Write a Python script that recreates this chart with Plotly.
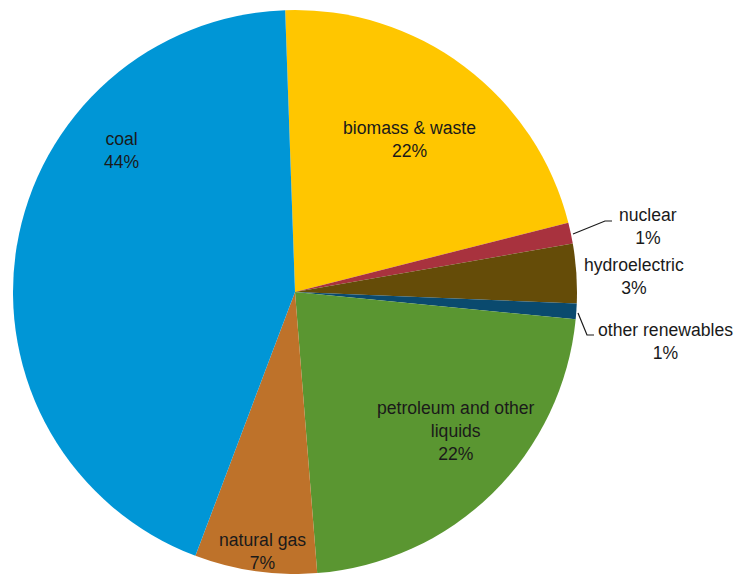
import plotly.graph_objects as go

labels = ["biomass & waste", "nuclear", "hydroelectric", "other renewables",
          "petroleum and other<br>liquids", "natural gas", "coal"]
values = [21.6, 1.2, 3.4, 0.9, 22.2, 7.0, 43.7]
pct_labels = ["22%", "1%", "3%", "1%", "22%", "7%", "44%"]
colors = ["#FFC600", "#A8323E", "#654C08", "#0A4A6E", "#5A9631", "#BE722A", "#0096D6"]

W, H = 736, 574
# label centres in pixels (layout)
label_pos = [(409, 139), (648, 226), (634, 277), (665, 341), (456, 431), (262, 551), (122, 151)]

fig = go.Figure(go.Pie(
    labels=labels, values=values, sort=False, direction="clockwise", rotation=-2,
    marker=dict(colors=colors, line=dict(width=0)),
    textinfo="none", hoverinfo="label+percent", showlegend=False,
    domain=dict(x=[13 / W, 577 / W], y=[0, 564 / H]),
))

for lab, pct, (px, py) in zip(labels, pct_labels, label_pos):
    fig.add_annotation(x=px / W, y=1 - py / H, xref="paper", yref="paper",
                       text=f"{lab}<br>{pct}", showarrow=False,
                       font=dict(family="Liberation Sans, Arial", size=17.6, color="#1a1a1a"),
                       align="center", xanchor="center", yanchor="middle")

def leader(pts):
    path = "M " + " L ".join(f"{x / W},{1 - y / H}" for x, y in pts)
    fig.add_shape(type="path", path=path, xref="paper", yref="paper",
                  line=dict(color="#1a1a1a", width=1.2))

leader([(573, 234), (605, 221), (612, 221)])
leader([(578, 313), (587, 335), (594, 335)])

fig.update_layout(width=W, height=H, margin=dict(l=0, r=0, t=0, b=0),
                  paper_bgcolor="white", plot_bgcolor="white")
fig.write_html("out.html", config={"displayModeBar": False},
               post_script="document.body.style.margin='0';document.body.style.overflow='hidden';")
